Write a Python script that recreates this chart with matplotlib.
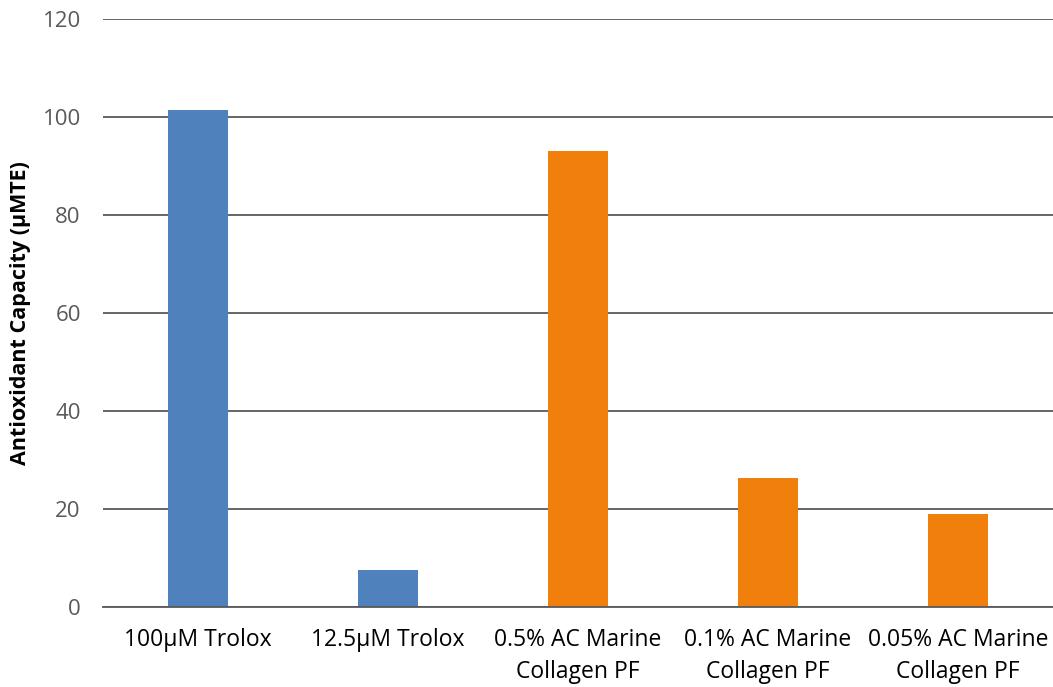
import matplotlib
matplotlib.use("Agg")
import matplotlib.pyplot as plt

categories = ["100µM Trolox", "12.5µM Trolox", "0.5% AC Marine\nCollagen PF",
              "0.1% AC Marine\nCollagen PF", "0.05% AC Marine\nCollagen PF"]
values = [101.4, 7.6, 93.1, 26.3, 19.0]
colors = ["#4F81BD", "#4F81BD", "#F0800B", "#F0800B", "#F0800B"]
yticks = [0, 20, 40, 60, 80, 100, 120]

plt.rcParams['font.family'] = ['Open Sans', 'DejaVu Sans']

fig = plt.figure(figsize=(10.53, 6.87), dpi=100)
ax = fig.add_axes([103/1053, 1 - 607/687, 1 - 103/1053, (607 - 19)/687])

x = list(range(len(categories)))
ax.bar(x, values, width=0.32, color=colors, zorder=3)

ax.set_xlim(-0.5, len(categories) - 0.5)
ax.set_ylim(0, 120)
ax.set_yticks(yticks)
ax.yaxis.grid(True, color="#595959", linewidth=1.3, zorder=0)
ax.set_xticks(x)
ax.set_xticklabels(categories, fontsize=16.5, color="black", linespacing=1.45)
ax.tick_params(axis="y", labelsize=16, labelcolor="#595959", length=0, pad=16)
ax.tick_params(axis="x", length=0, pad=15)
for s in ["top", "right", "left"]:
    ax.spines[s].set_visible(False)
ax.spines["bottom"].set_color("#595959")
ax.spines["bottom"].set_linewidth(1.3)
ax.spines["bottom"].set_zorder(4)

ax.set_ylabel("Antioxidant Capacity (µMTE)", fontsize=15.5, fontweight="bold")
ax.yaxis.set_label_coords(-80/1053, 0.5)

fig.savefig("out.png", dpi=100)
